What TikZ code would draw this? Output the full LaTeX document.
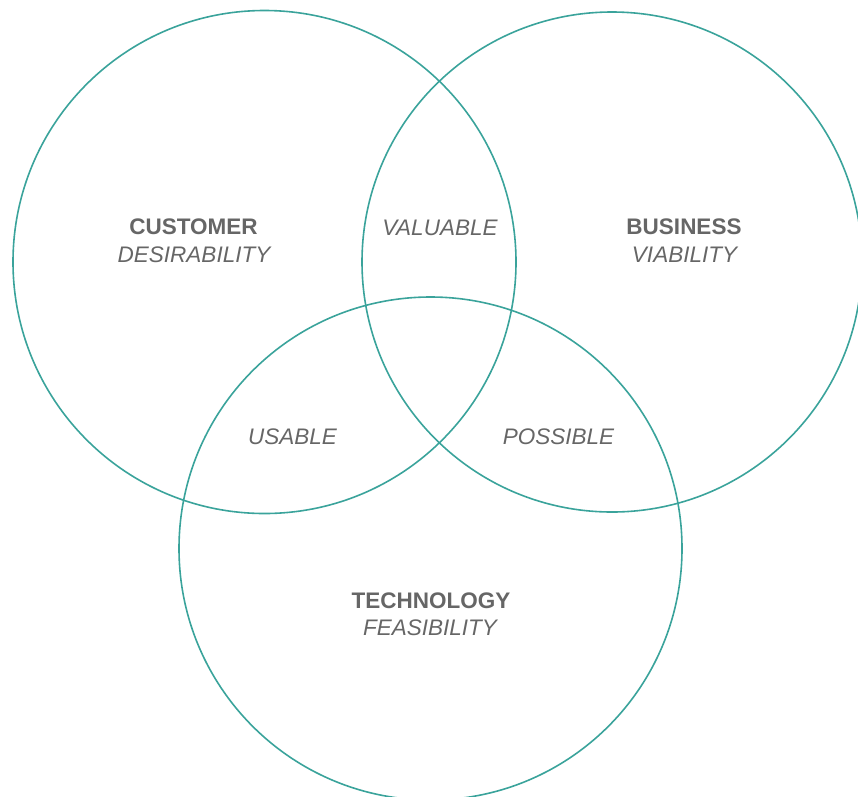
\documentclass[tikz,border=0pt]{standalone}
\usepackage{fontspec}
\setmainfont{Liberation Sans}
\definecolor{ring}{HTML}{3AA39B}
\definecolor{labelgray}{HTML}{666666}
\begin{document}
\begin{tikzpicture}[x=1pt,y=-1pt,
  ring/.style={draw=ring,line width=1.6pt},
  head/.style={anchor=base,inner sep=0pt,text=labelgray,font=\fontsize{22.5}{27}\selectfont\bfseries},
  sub/.style={anchor=base,inner sep=0pt,text=labelgray,font=\fontsize{22.5}{27}\selectfont\itshape}]
\useasboundingbox (0,0) rectangle (858,796);
\begin{scope}
\clip (0,0) rectangle (858,796);
\draw[ring] (264.5,262) circle[radius=251.5];
\draw[ring] (612,262) circle[radius=250];
\draw[ring] (430.5,548.5) circle[radius=251.5];
\end{scope}
\node[head] (customer) at (193.5,234.5) {CUSTOMER};
\node[sub] (desir) at (194,262) {DESIRABILITY};
\node[head] (business) at (684,234.5) {BUSINESS};
\node[sub] (viab) at (684.5,262) {VIABILITY};
\node[head] (tech) at (431,608) {TECHNOLOGY};
\node[sub] (feas) at (430,635) {FEASIBILITY};
\node[sub] (valuable) at (440,235) {VALUABLE};
\node[sub] (usable) at (292.5,444) {USABLE};
\node[sub] (possible) at (558.5,444) {POSSIBLE};
\end{tikzpicture}
\end{document}
